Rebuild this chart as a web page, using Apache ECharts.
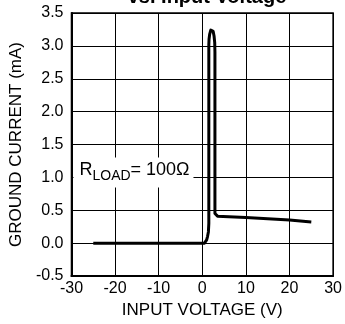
<!DOCTYPE html>
<html><head><meta charset="utf-8">
<script src="https://cdn.jsdelivr.net/npm/echarts@6/dist/echarts.min.js"></script>
<style>html,body{margin:0;padding:0;background:#fff}#c{width:345px;height:324px}</style>
</head><body><div id="c"></div>
<script>
const xTicks = [-30, -20, -10, 0, 10, 20, 30];
const yTicks = [-0.5, 0.0, 0.5, 1.0, 1.5, 2.0, 2.5, 3.0, 3.5];
const inputVoltage = [-25, -10, 0, 0.5, 0.8, 1.0, 1.2, 1.4, 1.5, 1.5, 1.55, 1.7, 1.95, 2.2, 2.5, 2.7, 2.85, 2.9, 2.9, 3.0, 3.5, 10, 20, 25];
const groundCurrent = [0, 0, 0, 0.0, 0.02, 0.05, 0.1, 0.17, 0.3, 3.02, 3.1, 3.18, 3.24, 3.25, 3.22, 3.15, 3.05, 2.9, 0.45, 0.42, 0.41, 0.39, 0.35, 0.32];
const titleText = 'vs. Input Voltage';
const xName = 'INPUT VOLTAGE (V)';
const yName = 'GROUND CURRENT (mA)';
const noteMain = 'R';
const noteSub = 'LOAD';
const noteTail = '= 100Ω';

const chart = echarts.init(document.getElementById('c'), null, {renderer: 'canvas'});
const font = 'Arial, "Liberation Sans", sans-serif';
chart.setOption({
  animation: false,
  backgroundColor: '#fff',
  title: {text: titleText, left: 202, textAlign: 'center', top: -18,
    textStyle: {fontFamily: font, fontSize: 20, fontWeight: 'bold', color: '#000'}},
  grid: {left: 71, right: 11, top: 13, bottom: 48, show: true, borderColor: '#000', borderWidth: 1.5},
  xAxis: {type: 'value', min: -30, max: 30, interval: 10,
    name: xName, nameLocation: 'middle', nameGap: 25,
    nameTextStyle: {fontFamily: font, fontSize: 17, color: '#000'},
    axisLine: {show: true, onZero: false, lineStyle: {color: '#000', width: 2}},
    axisTick: {show: false},
    axisLabel: {fontFamily: font, fontSize: 16, color: '#000', margin: 5},
    splitLine: {show: true, lineStyle: {color: '#000', width: 1}}},
  yAxis: {type: 'value', min: -0.5, max: 3.5, interval: 0.5,
    name: yName, nameLocation: 'middle', nameGap: 42,
    nameTextStyle: {fontFamily: font, fontSize: 17, color: '#000'},
    axisLine: {show: true, onZero: false, lineStyle: {color: '#000', width: 2}},
    axisTick: {show: false},
    axisLabel: {fontFamily: font, fontSize: 16, color: '#000', margin: 8,
      formatter: v => v.toFixed(1)},
    splitLine: {show: true, lineStyle: {color: '#000', width: 1}}},
  series: [{type: 'line', data: inputVoltage.map((x, i) => [x, groundCurrent[i]]),
    showSymbol: false, smooth: false, lineStyle: {color: '#000', width: 3, join: 'round'}}]
});
const p = chart.convertToPixel({gridIndex: 0}, [-30, 1.0]);
const fs = f => ({fill: '#000', font: f + 'px ' + font, verticalAlign: 'middle', align: 'left'});
chart.setOption({graphic: [
  {type: 'rect', shape: {x: p[0] + 2, y: p[1] - 20, width: 120, height: 30}, style: {fill: '#fff'}, z: 10},
  {type: 'text', x: p[0] + 8, y: p[1] - 7, z: 11, style: Object.assign({text: noteMain}, fs(18))},
  {type: 'text', x: p[0] + 21, y: p[1] - 1, z: 11, style: Object.assign({text: noteSub}, fs(14))},
  {type: 'text', x: p[0] + 59, y: p[1] - 7, z: 11, style: Object.assign({text: noteTail}, fs(18))}
]});
</script></body></html>
